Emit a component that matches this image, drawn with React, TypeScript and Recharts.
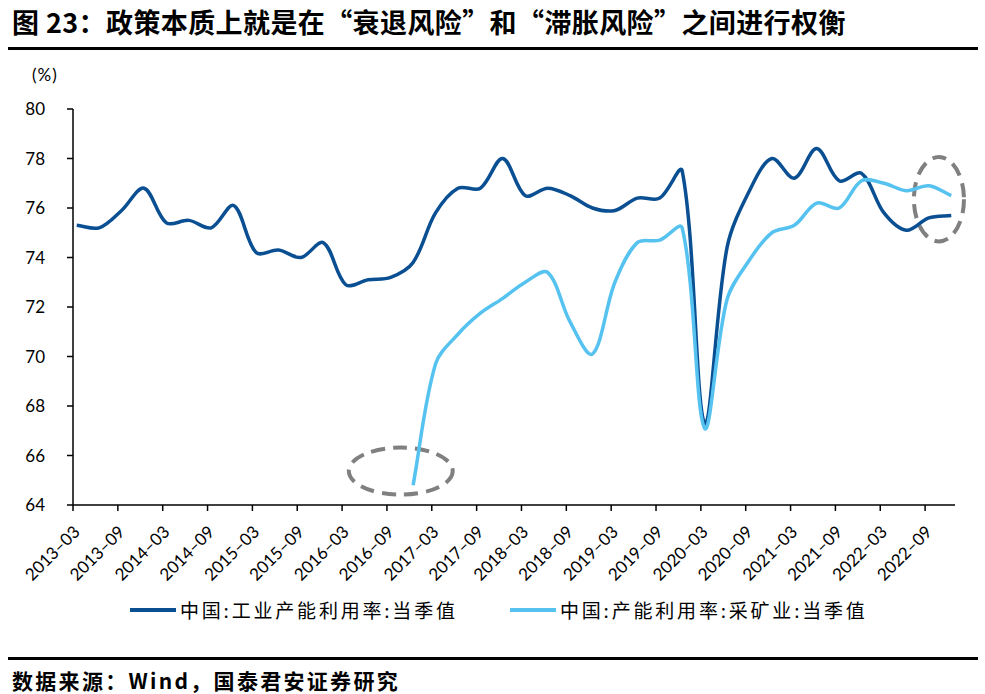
import React from 'react';
import {
  LineChart,
  Line,
  XAxis,
  YAxis,
  ReferenceArea,
} from 'recharts';

// quarterly observations, 2013Q1 .. 2022Q4
const quarters = [
  '2013-03', '2013-06', '2013-09', '2013-12',
  '2014-03', '2014-06', '2014-09', '2014-12',
  '2015-03', '2015-06', '2015-09', '2015-12',
  '2016-03', '2016-06', '2016-09', '2016-12',
  '2017-03', '2017-06', '2017-09', '2017-12',
  '2018-03', '2018-06', '2018-09', '2018-12',
  '2019-03', '2019-06', '2019-09', '2019-12',
  '2020-03', '2020-06', '2020-09', '2020-12',
  '2021-03', '2021-06', '2021-09', '2021-12',
  '2022-03', '2022-06', '2022-09', '2022-12',
];

const industrial = [
  75.3, 75.2, 75.9, 76.8,
  75.4, 75.5, 75.2, 76.1,
  74.2, 74.3, 74.0, 74.6,
  72.9, 73.1, 73.2, 73.8,
  75.8, 76.8, 76.8, 78.0,
  76.5, 76.8, 76.5, 76.0,
  75.9, 76.4, 76.4, 77.5,
  67.3, 74.4, 76.7, 78.0,
  77.2, 78.4, 77.1, 77.4,
  75.8, 75.1, 75.6, 75.7,
];

const mining: (number | null)[] = [
  null, null, null, null,
  null, null, null, null,
  null, null, null, null,
  null, null, null, 64.8,
  69.7, 70.9, 71.75, 72.35,
  73.0, 73.4, 71.4, 70.1,
  73.0, 74.6, 74.7, 75.2,
  67.1, 72.3, 73.9, 75.0,
  75.3, 76.2, 76.0, 77.1,
  77.0, 76.7, 76.9, 76.5,
];

const seriesNames = ['中国:工业产能利用率:当季值', '中国:产能利用率:采矿业:当季值'];
const seriesColors = ['#0a4f92', '#55c2f0'];

const yTicks = [64, 66, 68, 70, 72, 74, 76, 78, 80];
const xTickLabels = [
  '2013-03', '2013-09', '2014-03', '2014-09', '2015-03', '2015-09', '2016-03',
  '2016-09', '2017-03', '2017-09', '2018-03', '2018-09', '2019-03', '2019-09',
  '2020-03', '2020-09', '2021-03', '2021-09', '2022-03', '2022-09',
];

// highlighted regions (dashed ellipses), in axis units: months since 2013-03 / %
const highlights = [
  { x1: 36.9, x2: 50.8, y1: 64.42, y2: 66.32 },
  { x1: 112.5, x2: 119.2, y1: 74.65, y2: 78.06 },
];

const monthIndex = (label: string) => {
  const [y, m] = label.split('-').map(Number);
  return (y - 2013) * 12 + (m - 3);
};

// observations sit mid-month on the monthly date axis
const data = quarters.map((q, i) => ({
  t: monthIndex(q) + 0.5,
  industrial: industrial[i],
  mining: mining[i],
}));

const xTicks = xTickLabels.map(monthIndex);
const tickName: Record<number, string> = {};
xTickLabels.forEach((l) => (tickName[monthIndex(l)] = l.replace('-', '–')));

// Excel-like smoothed line: bezier, tangents scaled by neighbouring segment lengths
const excelSmooth = (context: any) => {
  let pts: number[][] = [];
  const dist = (a: number[], b: number[]) => Math.hypot(b[0] - a[0], b[1] - a[1]);
  return {
    areaStart() {},
    areaEnd() {},
    lineStart() {
      pts = [];
    },
    point(x: number, y: number) {
      pts.push([+x, +y]);
    },
    lineEnd() {
      if (!pts.length) return;
      context.moveTo(pts[0][0], pts[0][1]);
      for (let i = 0; i < pts.length - 1; i++) {
        const p0 = pts[i - 1] || pts[i];
        const p1 = pts[i];
        const p2 = pts[i + 1];
        const p3 = pts[i + 2] || p2;
        const d01 = dist(p0, p1);
        const d12 = dist(p1, p2);
        const d23 = dist(p2, p3);
        const f1 = d01 + d12 > 0 ? d12 / (d01 + d12) / 3 : 0;
        const f2 = d12 + d23 > 0 ? d12 / (d12 + d23) / 3 : 0;
        context.bezierCurveTo(
          p1[0] + (p2[0] - p0[0]) * f1,
          p1[1] + (p2[1] - p0[1]) * f1,
          p2[0] - (p3[0] - p1[0]) * f2,
          p2[1] - (p3[1] - p1[1]) * f2,
          p2[0],
          p2[1],
        );
      }
    },
  };
};

const XTick = (props: any) => {
  const { x, y, payload } = props;
  return (
    <text
      x={x + 8}
      y={y + 20}
      transform={`rotate(-45, ${x + 8}, ${y + 20})`}
      textAnchor="end"
      fontSize={17}
      fontFamily="Lato, sans-serif"
      fill="#000"
    >
      {tickName[payload.value]}
    </text>
  );
};

const Ellipse = (props: any) => {
  const { x, y, width, height } = props;
  return (
    <ellipse
      cx={x + width / 2}
      cy={y + height / 2}
      rx={Math.abs(width) / 2}
      ry={Math.abs(height) / 2}
      fill="none"
      stroke="#808080"
      strokeWidth={4}
      strokeDasharray="14 8"
    />
  );
};

const cjk = '"Noto Sans CJK SC", sans-serif';

export default function App() {
  return (
    <div style={{ position: 'absolute', left: 0, top: 0, width: 985, height: 694, background: '#fff', fontFamily: cjk }}>
      <div style={{ position: 'absolute', left: 12, top: 2, fontSize: 27, fontWeight: 700, whiteSpace: 'nowrap', letterSpacing: 0.4 }}>
        图 23：政策本质上就是在“衰退风险”和“滞胀风险”之间进行权衡
      </div>
      <div style={{ position: 'absolute', left: 8, top: 47, width: 970, height: 3, background: '#000' }} />

      <div style={{ position: 'absolute', left: 32, top: 64, fontSize: 17, letterSpacing: 1, fontFamily: 'Lato, sans-serif' }}>(%)</div>

      <div style={{ position: 'absolute', left: 0, top: 0 }}>
        <LineChart width={985} height={694} data={data} margin={{ top: 109, right: 30, left: 13, bottom: 109 }}>
          <XAxis
            dataKey="t"
            type="number"
            domain={[0, 118]}
            ticks={xTicks}
            interval={0}
            height={80}
            tick={<XTick />}
            tickSize={6}
            axisLine={{ stroke: '#000', strokeWidth: 1.5 }}
            tickLine={{ stroke: '#000', strokeWidth: 1.5 }}
          />
          <YAxis
            type="number"
            domain={[64, 80]}
            ticks={yTicks}
            width={60}
            tickSize={6}
            tickMargin={22}
            tick={{ fill: '#000', fontSize: 17, fontFamily: 'Lato, sans-serif' }}
            axisLine={{ stroke: '#000', strokeWidth: 1.5 }}
            tickLine={{ stroke: '#000', strokeWidth: 1.5 }}
          />
          <Line
            dataKey="industrial"
            type={excelSmooth as any}
            stroke={seriesColors[0]}
            strokeWidth={3.5}
            dot={false}
            activeDot={false}
            isAnimationActive={false}
          />
          <Line
            dataKey="mining"
            type={excelSmooth as any}
            stroke={seriesColors[1]}
            strokeWidth={3.5}
            dot={false}
            activeDot={false}
            isAnimationActive={false}
          />
          {highlights.map((h, i) => (
            <ReferenceArea key={i} x1={h.x1} x2={h.x2} y1={h.y1} y2={h.y2} ifOverflow="visible" shape={<Ellipse />} />
          ))}
        </LineChart>
      </div>

      <div style={{ position: 'absolute', top: 596, left: 0, width: 985, fontSize: 19, letterSpacing: 2.8, whiteSpace: 'nowrap' }}>
        {seriesNames.map((n, i) => (
          <div key={n} style={{ position: 'absolute', left: i === 0 ? 130 : 510, top: 0, display: 'flex', alignItems: 'center' }}>
            <span style={{ display: 'inline-block', width: 46, height: 4, background: seriesColors[i], marginRight: 4 }} />
            <span>{n}</span>
          </div>
        ))}
      </div>

      <div style={{ position: 'absolute', left: 8, top: 657, width: 970, height: 3, background: '#000' }} />
      <div style={{ position: 'absolute', left: 12, top: 665, fontSize: 21, fontWeight: 700, whiteSpace: 'nowrap', letterSpacing: 2.3 }}>
        数据来源：Wind，国泰君安证券研究
      </div>
    </div>
  );
}
